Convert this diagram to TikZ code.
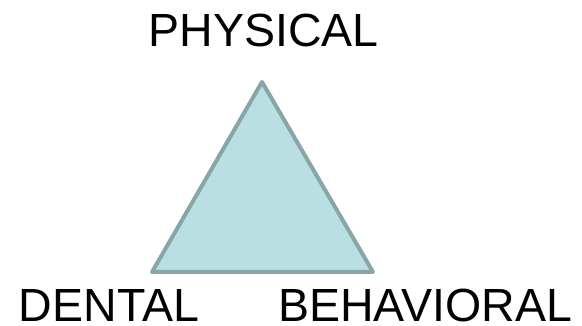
\documentclass[tikz,border=0pt]{standalone}
\usepackage{fontspec}
\setmainfont{Liberation Sans}
\definecolor{trifill}{RGB}{186,223,227}
\definecolor{tristroke}{RGB}{136,166,168}
\begin{document}
\begin{tikzpicture}[x=1pt,y=1pt,
  lbl/.style={anchor=base,inner sep=0pt,font=\fontsize{46.5}{46.5}\selectfont,text=black},
  tri/.style={fill=trifill,draw=tristroke,line width=4pt,line join=round,line cap=round}]
\useasboundingbox (0,0) rectangle (582,326);
\coordinate (apex) at (262,244);
\coordinate (bl) at (152,54);
\coordinate (br) at (373,54);
\draw[tri] (apex) -- (br) -- (bl) -- cycle;
\node[lbl] (physical) at (263.5,279) {PHYSICAL};
\node[lbl] (dental) at (109,4) {DENTAL};
\node[lbl] (behavioral) at (425,4) {BEHAVIORAL};
\end{tikzpicture}
\end{document}
